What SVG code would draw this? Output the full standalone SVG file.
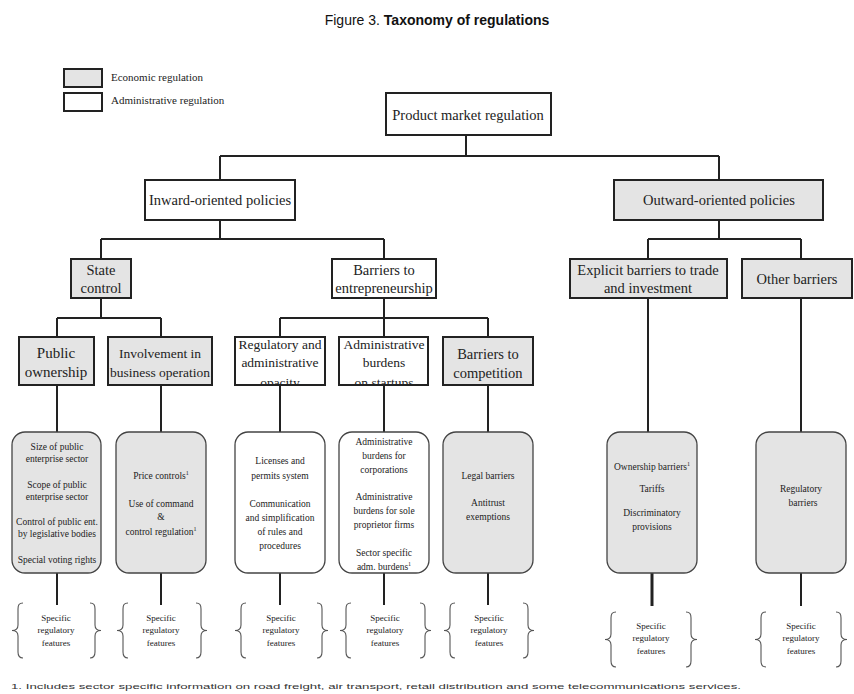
<svg xmlns="http://www.w3.org/2000/svg" xmlns:xlink="http://www.w3.org/1999/xlink" width="854" height="694" viewBox="0 0 854 694">
<style>
.box{stroke:#222;stroke-width:2}
.eco{fill:#e4e4e4}
.adm{fill:#ffffff}
.rb{stroke:#444;stroke-width:1.3}
.t{font-family:"Liberation Serif","Times New Roman",serif;fill:#222;text-anchor:middle}
.l1{font-size:14.5px}
.l2{font-size:13.5px}
.s{font-size:9.5px}
.f{font-size:9px}
.c{stroke:#222;stroke-width:2;fill:none}
.br{stroke:#555;stroke-width:1.1;fill:none}
</style>
<defs>
<path id="lb" d="M11,0 C7,0 6,2 6,6 L6,22 C6,25.5 4,27.5 0,27.5 C4,27.5 6,29.5 6,33 L6,49 C6,53 7,55 11,55"/>
<path id="rbr" d="M0,0 C4,0 5,2 5,6 L5,22 C5,25.5 7,27.5 11,27.5 C7,27.5 5,29.5 5,33 L5,49 C5,53 4,55 0,55"/>
<clipPath id="cReg"><rect x="235" y="337" width="90" height="48"/></clipPath>
<clipPath id="cAdm"><rect x="339" y="337" width="89" height="48"/></clipPath>
</defs>
<rect width="854" height="694" fill="#ffffff"/>

<g id="title">
<text x="437" y="25" style="font-family:'Liberation Sans',Arial,sans-serif;font-size:14px;fill:#111" text-anchor="middle">Figure 3. <tspan font-weight="bold">Taxonomy of regulations</tspan></text>
</g>

<g id="legend">
<rect class="box eco" x="64" y="69" width="38" height="18"/>
<text class="t" x="111" y="81" style="font-size:11px;text-anchor:start">Economic regulation</text>
<rect class="box adm" x="64" y="93" width="38" height="18"/>
<text class="t" x="111" y="104" style="font-size:11px;text-anchor:start">Administrative regulation</text>
</g>

<g id="connectors">
<path class="c" d="M466,135 V156 M220,156 H719 M220,156 V180 M719,156 V180"/>
<path class="c" d="M220,220 V239 M101,239 H384 M101,239 V259 M384,239 V259"/>
<path class="c" d="M719,220 V239 M648,239 H801 M648,239 V259 M801,239 V259"/>
<path class="c" d="M101,298 V318 M57,318 H161 M57,318 V337 M161,318 V337"/>
<path class="c" d="M384,298 V318 M280,318 H488 M280,318 V337 M384,318 V337 M488,318 V337"/>
<path class="c" d="M57,385 V432 M161,385 V432 M280,385 V432 M384,385 V432 M488,385 V432"/>
<path class="c" d="M648,298 V432 M801,298 V432"/>
<path class="c" d="M57,573 V605 M161,573 V605 M280,573 V605 M384,573 V605 M488,573 V605 M801,573 V606"/>
<path class="c" d="M652,573 V606" style="stroke-width:3"/>
</g>

<g id="product-market-regulation">
<rect class="box adm" x="386" y="93" width="165" height="42"/>
<text class="t l1" x="468" y="120">Product market regulation</text>
</g>
<g id="inward-oriented-policies">
<rect class="box adm" x="145" y="180" width="150" height="40"/>
<text class="t l1" x="220" y="205">Inward-oriented policies</text>
</g>
<g id="outward-oriented-policies">
<rect class="box eco" x="614" y="180" width="209" height="40"/>
<text class="t l1" x="719" y="205">Outward-oriented policies</text>
</g>
<g id="state-control">
<rect class="box eco" x="71" y="259" width="60" height="39"/>
<text class="t l1" x="101" y="275">State</text>
<text class="t l1" x="101" y="293">control</text>
</g>
<g id="barriers-to-entrepreneurship">
<rect class="box adm" x="332" y="259" width="104" height="39"/>
<text class="t l1" x="384" y="275">Barriers to</text>
<text class="t l1" x="384" y="293">entrepreneurship</text>
</g>
<g id="explicit-barriers">
<rect class="box eco" x="570" y="259" width="157" height="39"/>
<text class="t l1" x="648" y="275">Explicit barriers to trade</text>
<text class="t l1" x="648" y="293">and investment</text>
</g>
<g id="other-barriers">
<rect class="box eco" x="742" y="259" width="110" height="39"/>
<text class="t l1" x="797" y="284">Other barriers</text>
</g>

<g id="public-ownership">
<rect class="box eco" x="19" y="337" width="75" height="48"/>
<text class="t" style="font-size:15px" x="56" y="358">Public</text>
<text class="t" style="font-size:15px" x="56" y="377">ownership</text>
</g>
<g id="involvement-in-business-operation">
<rect class="box eco" x="108" y="337" width="104" height="48"/>
<text class="t l2" x="160" y="358">Involvement in</text>
<text class="t l2" x="160" y="377">business operation</text>
</g>
<g id="regulatory-and-administrative-opacity">
<rect class="adm" x="235" y="337" width="90" height="48"/>
<g clip-path="url(#cReg)">
<text class="t l2" x="280" y="349">Regulatory and</text>
<text class="t l2" x="280" y="367">administrative</text>
<text class="t l2" x="280" y="387">opacity</text>
</g>
<rect class="box" fill="none" x="235" y="337" width="90" height="48"/>
</g>
<g id="administrative-burdens-on-startups">
<rect class="adm" x="339" y="337" width="89" height="48"/>
<g clip-path="url(#cAdm)">
<text class="t l2" x="384" y="349">Administrative</text>
<text class="t l2" x="384" y="367">burdens</text>
<text class="t l2" x="384" y="387">on startups</text>
</g>
<rect class="box" fill="none" x="339" y="337" width="89" height="48"/>
</g>
<g id="barriers-to-competition">
<rect class="box eco" x="443" y="337" width="90" height="48"/>
<text class="t l1" x="488" y="359">Barriers to</text>
<text class="t l1" x="488" y="378">competition</text>
</g>

<g id="public-ownership-features">
<rect class="rb eco" x="12" y="432" width="89" height="141" rx="13"/>
<text class="t s" x="57" y="450">Size of public</text>
<text class="t s" x="57" y="462">enterprise sector</text>
<text class="t s" x="57" y="488">Scope of public</text>
<text class="t s" x="57" y="500">enterprise sector</text>
<text class="t s" x="57" y="525">Control of public ent.</text>
<text class="t s" x="57" y="537">by legislative bodies</text>
<text class="t s" x="57" y="563">Special voting rights</text>
</g>
<g id="involvement-features">
<rect class="rb eco" x="116" y="432" width="90" height="141" rx="13"/>
<text class="t s" x="161" y="479">Price controls<tspan dy="-4" style="font-size:6px">1</tspan></text>
<text class="t s" x="161" y="507">Use of command</text>
<text class="t s" x="161" y="520">&amp;</text>
<text class="t s" x="161" y="535">control regulation<tspan dy="-4" style="font-size:6px">1</tspan></text>
</g>
<g id="opacity-features">
<rect class="rb adm" x="235" y="432" width="90" height="141" rx="13"/>
<text class="t s" x="280" y="464">Licenses and</text>
<text class="t s" x="280" y="479">permits system</text>
<text class="t s" x="280" y="507">Communication</text>
<text class="t s" x="280" y="521">and simplification</text>
<text class="t s" x="280" y="535">of rules and</text>
<text class="t s" x="280" y="549">procedures</text>
</g>
<g id="startup-burden-features">
<rect class="rb adm" x="339" y="432" width="90" height="141" rx="13"/>
<text class="t s" x="384" y="445">Administrative</text>
<text class="t s" x="384" y="459">burdens for</text>
<text class="t s" x="384" y="473">corporations</text>
<text class="t s" x="384" y="500">Administrative</text>
<text class="t s" x="384" y="514">burdens for sole</text>
<text class="t s" x="384" y="528">proprietor firms</text>
<text class="t s" x="384" y="556">Sector specific</text>
<text class="t s" x="384" y="570">adm. burdens<tspan dy="-4" style="font-size:6px">1</tspan></text>
</g>
<g id="competition-features">
<rect class="rb eco" x="443" y="432" width="90" height="141" rx="13"/>
<text class="t s" x="488" y="479">Legal barriers</text>
<text class="t s" x="488" y="506">Antitrust</text>
<text class="t s" x="488" y="520">exemptions</text>
</g>
<g id="explicit-features">
<rect class="rb eco" x="607" y="432" width="90" height="141" rx="13"/>
<text class="t s" x="652" y="470">Ownership barriers<tspan dy="-4" style="font-size:6px">1</tspan></text>
<text class="t s" x="652" y="492">Tariffs</text>
<text class="t s" x="652" y="516">Discriminatory</text>
<text class="t s" x="652" y="530">provisions</text>
</g>
<g id="other-features">
<rect class="rb eco" x="756" y="432" width="90" height="141" rx="13"/>
<text class="t s" x="801" y="492">Regulatory</text>
<text class="t s" x="803" y="506">barriers</text>
</g>

<g id="specific-features-1">
<use xlink:href="#lb" class="br" x="12" y="603"/><use xlink:href="#rbr" class="br" x="90" y="603"/>
<text class="t f" x="56" y="621">Specific</text><text class="t f" x="56" y="633">regulatory</text><text class="t f" x="56" y="646">features</text>
</g>
<g id="specific-features-2">
<use xlink:href="#lb" class="br" x="117" y="603"/><use xlink:href="#rbr" class="br" x="196" y="603"/>
<text class="t f" x="161" y="621">Specific</text><text class="t f" x="161" y="633">regulatory</text><text class="t f" x="161" y="646">features</text>
</g>
<g id="specific-features-3">
<use xlink:href="#lb" class="br" x="235" y="603"/><use xlink:href="#rbr" class="br" x="317" y="603"/>
<text class="t f" x="281" y="621">Specific</text><text class="t f" x="281" y="633">regulatory</text><text class="t f" x="281" y="646">features</text>
</g>
<g id="specific-features-4">
<use xlink:href="#lb" class="br" x="340" y="603"/><use xlink:href="#rbr" class="br" x="420" y="603"/>
<text class="t f" x="385" y="621">Specific</text><text class="t f" x="385" y="633">regulatory</text><text class="t f" x="385" y="646">features</text>
</g>
<g id="specific-features-5">
<use xlink:href="#lb" class="br" x="444" y="603"/><use xlink:href="#rbr" class="br" x="523" y="603"/>
<text class="t f" x="489" y="621">Specific</text><text class="t f" x="489" y="633">regulatory</text><text class="t f" x="489" y="646">features</text>
</g>
<g id="specific-features-6">
<use xlink:href="#lb" class="br" x="605" y="612"/><use xlink:href="#rbr" class="br" x="686" y="612"/>
<text class="t f" x="651" y="629">Specific</text><text class="t f" x="651" y="641">regulatory</text><text class="t f" x="651" y="654">features</text>
</g>
<g id="specific-features-7">
<use xlink:href="#lb" class="br" x="755" y="612"/><use xlink:href="#rbr" class="br" x="836" y="612"/>
<text class="t f" x="801" y="629">Specific</text><text class="t f" x="801" y="641">regulatory</text><text class="t f" x="801" y="654">features</text>
</g>

<g id="footnote">
<text x="11" y="689" style="font-family:'Liberation Sans',Arial,sans-serif;font-size:8px;fill:#333" textLength="730" lengthAdjust="spacingAndGlyphs">1. Includes sector specific information on road freight, air transport, retail distribution and some telecommunications services.</text>
</g>
</svg>
